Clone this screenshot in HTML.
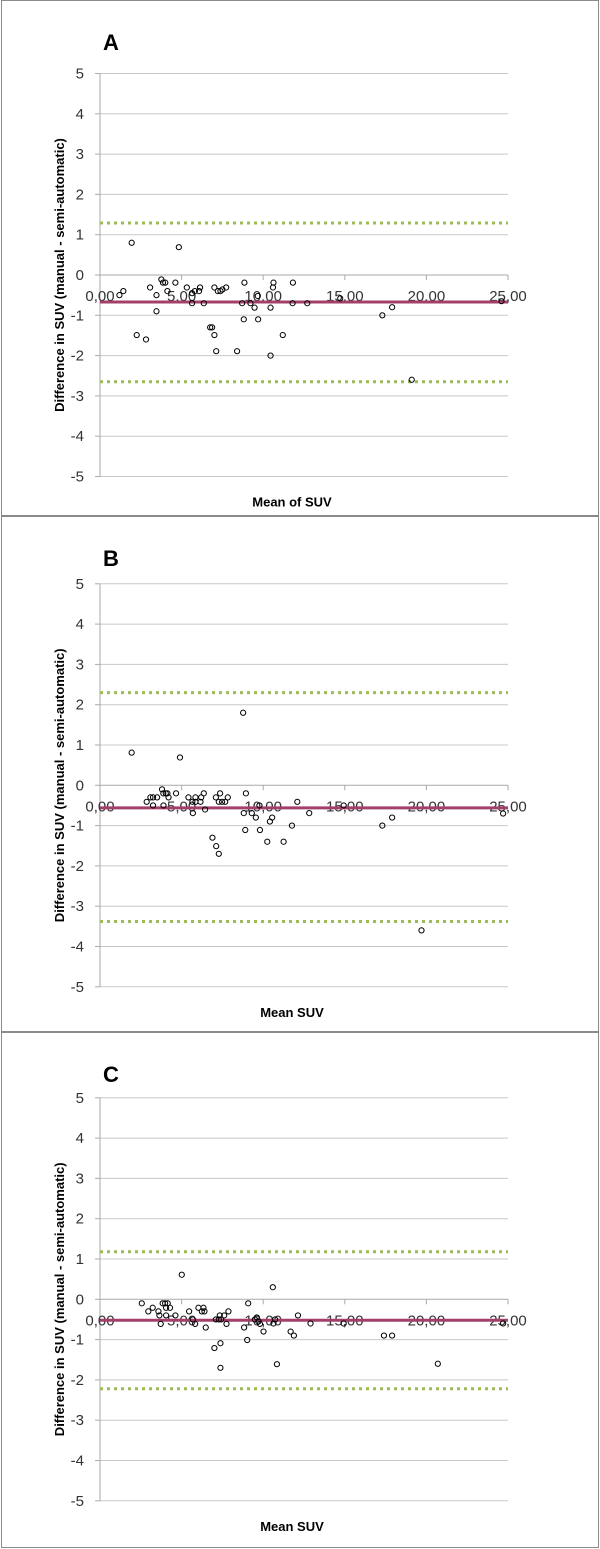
<!DOCTYPE html>
<html><head><meta charset="utf-8">
<style>
html,body{margin:0;padding:0;background:#fff;overflow:hidden;}
svg{display:block;font-family:"Liberation Sans",sans-serif;}
</style></head>
<body>
<svg id="chart" width="600" height="1549" viewBox="0 0 600 1549"></svg>
<script>
const yTicks=[5,4,3,2,1,0,-1,-2,-3,-4,-5];
const xTicks=[0,5,10,15,20,25];
const xTickLabels=["0,00","5,00","10,00","15,00","20,00","25,00"];
const panelLetters=["A","B","C"];
const xTitles=["Mean of SUV","Mean SUV","Mean SUV"];
const meanDiff=[-0.67,-0.56,-0.52];
const upperLoA=[1.29,2.3,1.18];
const lowerLoA=[-2.65,-3.38,-2.22];
const xA=[1.94,4.83,1.19,1.43,3.07,3.46,3.76,3.86,4.0,4.13,3.46,2.25,2.82,4.62,5.32,5.64,5.64,5.81,6.07,6.13,6.36,6.75,6.87,7.01,7.12,7.01,7.22,7.38,7.5,7.73,8.4,8.71,8.81,8.85,9.22,9.47,9.69,9.67,10.45,10.45,10.6,10.63,11.2,11.8,11.82,12.7,14.72,17.3,17.9,19.1,24.6];
const yA=[0.8,0.69,-0.5,-0.4,-0.31,-0.5,-0.11,-0.19,-0.19,-0.4,-0.9,-1.49,-1.6,-0.19,-0.31,-0.45,-0.7,-0.4,-0.4,-0.31,-0.7,-1.3,-1.3,-1.49,-1.89,-0.31,-0.4,-0.4,-0.36,-0.31,-1.89,-0.7,-1.1,-0.19,-0.7,-0.81,-1.1,-0.52,-0.81,-2.0,-0.31,-0.19,-1.49,-0.7,-0.19,-0.7,-0.58,-1.0,-0.8,-2.6,-0.65];
const xB=[1.94,4.9,2.86,3.09,3.25,3.25,3.5,3.8,3.88,4.03,4.13,3.89,4.2,4.66,5.42,5.66,5.69,5.85,5.85,6.16,6.2,6.36,6.44,6.89,7.12,7.28,7.1,7.28,7.36,7.48,7.67,7.83,8.81,8.9,8.94,9.3,9.55,9.8,9.77,10.25,10.41,10.55,11.25,11.76,12.09,12.82,14.93,8.77,17.3,17.9,19.7,24.7];
const yB=[0.81,0.69,-0.41,-0.3,-0.3,-0.5,-0.3,-0.1,-0.2,-0.2,-0.2,-0.5,-0.3,-0.2,-0.3,-0.41,-0.69,-0.3,-0.41,-0.41,-0.3,-0.2,-0.6,-1.3,-1.51,-1.7,-0.3,-0.41,-0.2,-0.41,-0.41,-0.3,-0.69,-1.11,-0.2,-0.69,-0.8,-1.11,-0.5,-1.4,-0.9,-0.8,-1.4,-1.0,-0.41,-0.69,-0.5,1.8,-1.0,-0.8,-3.6,-0.7];
const xC=[2.56,2.96,3.23,3.58,3.64,3.72,3.84,3.99,4.15,4.05,4.29,4.05,4.62,5.01,5.46,5.69,5.83,6.03,6.24,6.34,6.4,6.48,7.01,7.38,7.38,7.1,7.28,7.34,7.42,7.61,7.75,7.87,8.83,9.02,9.08,9.49,9.61,9.71,9.8,10.02,10.59,10.63,10.73,10.84,11.68,11.88,12.13,12.9,14.93,17.4,17.9,20.7,24.7];
const yC=[-0.1,-0.3,-0.21,-0.3,-0.4,-0.61,-0.1,-0.1,-0.1,-0.21,-0.21,-0.4,-0.4,0.61,-0.3,-0.5,-0.61,-0.21,-0.3,-0.21,-0.3,-0.7,-1.21,-1.09,-1.7,-0.5,-0.5,-0.4,-0.5,-0.4,-0.61,-0.3,-0.7,-1.01,-0.1,-0.5,-0.45,-0.55,-0.61,-0.8,0.3,-0.6,-0.5,-1.61,-0.8,-0.9,-0.4,-0.6,-0.6,-0.9,-0.9,-1.6,-0.6];
const xSeries=[xA,xB,xC];
const ySeries=[yA,yB,yC];

const NS="http://www.w3.org/2000/svg";
const svg=document.getElementById('chart');
function mk(tag,attrs,parent){const e=document.createElementNS(NS,tag);for(const k in attrs)e.setAttribute(k,attrs[k]);(parent||svg).appendChild(e);return e;}
const panelTop=[0,516,1032];
const zeroY=[275,785.3,1299.3];
const X0=100, XS=16.32, YS=40.3;
for(let p=0;p<3;p++){
  const g=mk('g',{});
  
  
  const sx=v=>X0+v*XS;
  const sy=v=>zeroY[p]-v*YS;
  const box=mk('rect',{x:1.5,y:panelTop[p]+0.5,width:597,height:515,fill:'none',stroke:'#8a8a8a','stroke-width':1},g);
  
  
  const L=mk('text',{x:103,y:panelTop[p]+50,'font-size':22,'font-weight':'bold',fill:'#000'},g);
  L.textContent=panelLetters[p];
  
  
  for(const t of yTicks){
    const y=sy(t);
    if(t!==0){const gl=mk('line',{x1:X0,x2:sx(25),y1:y,y2:y,stroke:'#c8c8c8','stroke-width':1},g);
      
      }
    mk('line',{x1:X0-5,x2:X0,y1:y,y2:y,stroke:'#aaa'},g);
    const tx=mk('text',{x:84,y:y+5,'font-size':15,'text-anchor':'end',fill:'#333'},g);
    tx.textContent=t;
    
    
  }
  const ya=mk('line',{x1:X0,x2:X0,y1:sy(5),y2:sy(-5),stroke:'#aaa'},g);
  
  
  const xa=mk('line',{x1:X0,x2:sx(25),y1:sy(0),y2:sy(0),stroke:'#aaa'},g);
  
  
  xTicks.forEach((t,i)=>{
    mk('line',{x1:sx(t),x2:sx(t),y1:sy(0),y2:sy(0)+5,stroke:'#aaa'},g);
    const tx=mk('text',{x:sx(t),y:sy(0)+26,'font-size':15,'text-anchor':'middle',fill:'#333'},g);
    tx.textContent=xTickLabels[i];
    
    
  });
  const lines=[[upperLoA[p],'upper-loa-line'],[lowerLoA[p],'lower-loa-line']];
  for(const [v,n] of lines){
    const l=mk('line',{x1:X0,x2:sx(25),y1:sy(v),y2:sy(v),stroke:'#9bbb59','stroke-width':3,'stroke-dasharray':'3 4'},g);
    
    
  }
  const m=mk('line',{x1:X0,x2:sx(25),y1:sy(meanDiff[p]),y2:sy(meanDiff[p]),stroke:'#a3406a','stroke-width':3},g);
  
  
  const xs=xSeries[p], ys=ySeries[p];
  for(let i=0;i<xs.length;i++){
    const c=mk('circle',{cx:sx(xs[i]),cy:sy(ys[i]),r:2.6,fill:'none',stroke:'#000','stroke-width':1},g);
    
    
  }
  const yt=mk('text',{x:0,y:0,'font-size':13,'font-weight':'bold','text-anchor':'middle',fill:'#000',transform:`translate(64,${sy(0)}) rotate(-90)`},g);
  yt.textContent='Difference in SUV (manual - semi-automatic)';
  
  
  const xt=mk('text',{x:sx(12.5)-12,y:sy(-5)+30,'font-size':13,'font-weight':'bold','text-anchor':'middle',fill:'#000'},g);
  xt.textContent=xTitles[p];
  
  
}
</script>
</body></html>
